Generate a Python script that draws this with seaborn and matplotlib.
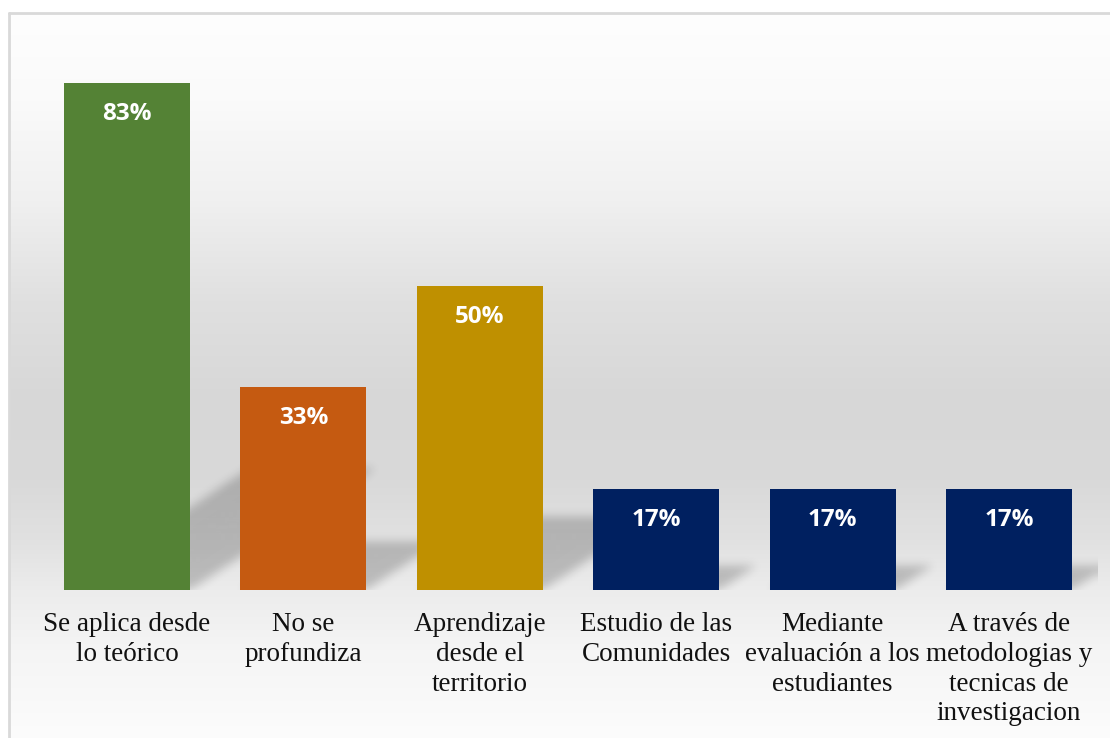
import matplotlib
matplotlib.use("Agg")
import matplotlib.pyplot as plt
import seaborn as sns
import numpy as np
import pandas as pd

# Datos del gráfico
categorias = [
    "Se aplica desde\nlo teórico",
    "No se\nprofundiza",
    "Aprendizaje\ndesde el\nterritorio",
    "Estudio de las\nComunidades",
    "Mediante\nevaluación a los\nestudiantes",
    "A través de\nmetodologias y\ntecnicas de\ninvestigacion",
]
porcentajes = [83.33, 33.33, 50.0, 16.67, 16.67, 16.67]
colores = ["#548235", "#c55a11", "#bf9000", "#002060", "#002060", "#002060"]

sns.set_theme(style="white")
plt.rcParams["font.family"] = ["Liberation Serif", "DejaVu Serif"]

W, H = 1110, 738
fig = plt.figure(figsize=(W / 100, H / 100), dpi=100)
fig.patch.set_facecolor("white")

# Fondo con degradado (blanco -> gris -> blanco)
bg = fig.add_axes([0, 0, 1, 1], zorder=0)
stops_y = [0, 13, 100, 200, 300, 400, 480, 540, 590, 650, 738]
stops_g = [255, 254, 250, 240, 224, 215, 217, 225, 236, 245, 252]
yy = np.arange(H)
gray = np.interp(yy, stops_y, stops_g) / 255.0
img = np.ones((H, W, 3))
img[:, :, :] = gray[:, None, None]
img[:13, :, :] = 1.0
img[:, :9, :] = 1.0
bg.imshow(img, extent=(0, W, H, 0), aspect="auto", interpolation="bilinear")
bg.plot([9, 9], [13, H], color="#d9d9d9", lw=2)
bg.plot([9, W], [13, 13], color="#d9d9d9", lw=2)
bg.set_xlim(0, W)
bg.set_ylim(H, 0)
bg.axis("off")

# Ejes principales
px_per_cat = 176.4
px_per_pct = 6.08
left = 127 - 0.5 * px_per_cat
ytop = 95
ax = fig.add_axes([left / W, (H - 590) / H, 6 * px_per_cat / W, ytop * px_per_pct / H], zorder=1)
ax.patch.set_alpha(0)

ancho = 0.714
df = pd.DataFrame({"cat": categorias, "pct": porcentajes})

# Sombras en perspectiva (raster difuminado)
nx, ny = int(6 * px_per_cat), int((ytop + 5) * px_per_pct)
xs = np.linspace(-0.5, 5.5, nx)
ys = np.linspace(-5, ytop, ny)
X, Y = np.meshgrid(xs, ys)
mask = np.zeros_like(X)
for i, v in enumerate(porcentajes):
    hs = 0.24 * v
    shift = 0.01258 * v
    t = np.clip(Y / hs, 0, 1)
    x0 = i - ancho / 2 + shift * t
    inside = (Y >= 0) & (Y <= hs) & (X >= x0) & (X <= x0 + ancho)
    mask = np.maximum(mask, inside.astype(float))


def box_blur(a, r, axis):
    c = np.cumsum(np.pad(a, [(r + 1, r) if k == axis else (0, 0) for k in range(2)], mode="edge"), axis=axis)
    if axis == 0:
        return (c[2 * r + 1:] - c[:-2 * r - 1]) / (2 * r + 1)
    return (c[:, 2 * r + 1:] - c[:, :-2 * r - 1]) / (2 * r + 1)


for _ in range(3):
    mask = box_blur(mask, 4, 0)
    mask = box_blur(mask, 4, 1)

sombra = np.zeros((ny, nx, 4))
sombra[:, :, 3] = mask * 0.2
ax.imshow(sombra, extent=(-0.5, 5.5, -5, ytop), origin="lower", aspect="auto",
          interpolation="bilinear", zorder=1)

sns.barplot(data=df, x="cat", y="pct", hue="cat", palette=colores, legend=False,
            width=ancho, saturation=1, ax=ax, zorder=2, linewidth=0, edgecolor="none")

for i, v in enumerate(porcentajes):
    ax.text(i, v - 5.1, f"{round(v)}%", ha="center", va="center", color="white",
            fontsize=17.5, fontweight="bold", family=["Open Sans", "DejaVu Sans"], zorder=3)

ax.set_xlim(-0.5, 5.5)
ax.set_ylim(0, ytop)
ax.set_xlabel("")
ax.set_ylabel("")
ax.set_yticks([])
ax.tick_params(axis="x", length=0, pad=16)
for lbl in ax.get_xticklabels():
    lbl.set_fontsize(19.5)
    lbl.set_color("#111111")
    lbl.set_linespacing(1.25)
    lbl.set_verticalalignment("top")
for s in ax.spines.values():
    s.set_visible(False)

fig.savefig("out.png", dpi=100)
plt.close(fig)
